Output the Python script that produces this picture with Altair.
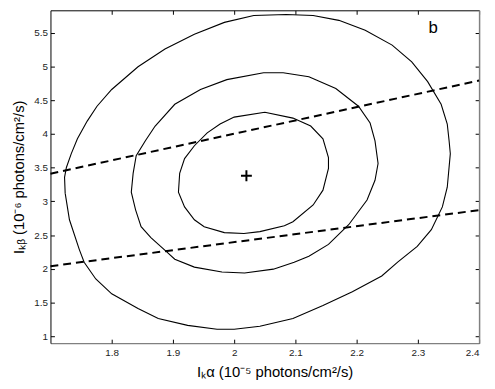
import altair as alt
import pandas as pd

# ---- data ----
inner_x = [2.050, 2.096, 2.125, 2.145, 2.154, 2.154, 2.145, 2.129, 2.096, 2.082, 2.042, 2.016,
           1.984, 1.951, 1.935, 1.919, 1.909, 1.911, 1.919, 1.935, 1.956, 1.977, 2.000]
inner_y = [4.321, 4.233, 4.116, 3.926, 3.649, 3.488, 3.166, 2.947, 2.698, 2.640, 2.552, 2.523,
           2.537, 2.625, 2.727, 2.918, 3.137, 3.415, 3.634, 3.824, 4.014, 4.146, 4.248]

middle_x = [1.871, 1.903, 1.945, 1.988, 2.048, 2.080, 2.122, 2.166, 2.203, 2.222, 2.230, 2.235,
            2.230, 2.217, 2.187, 2.154, 2.122, 2.098, 2.064, 2.017, 1.980, 1.935, 1.903, 1.889,
            1.864, 1.848, 1.839, 1.832, 1.835, 1.840, 1.855]
middle_y = [4.116, 4.438, 4.657, 4.803, 4.906, 4.906, 4.847, 4.672, 4.409, 4.160, 3.897, 3.561,
            3.312, 3.020, 2.654, 2.362, 2.187, 2.099, 1.996, 1.938, 1.953, 2.026, 2.143, 2.260,
            2.464, 2.625, 2.874, 3.137, 3.415, 3.678, 3.897]

outer_x = [1.724, 1.723, 1.726, 1.734, 1.744, 1.760, 1.776, 1.800, 1.843, 1.887, 1.935, 1.984,
           2.032, 2.085, 2.129, 2.171, 2.214, 2.258, 2.290, 2.316, 2.338, 2.348, 2.351, 2.353,
           2.348, 2.340, 2.322, 2.299, 2.267, 2.241, 2.193, 2.145, 2.096, 2.042, 2.000, 1.972,
           1.924, 1.876, 1.843, 1.800, 1.774, 1.755, 1.747, 1.731]
outer_y = [3.122, 3.356, 3.502, 3.707, 3.926, 4.189, 4.409, 4.657, 4.994, 5.257, 5.476, 5.651,
           5.754, 5.768, 5.754, 5.681, 5.535, 5.315, 5.067, 4.774, 4.438, 4.146, 3.897, 3.707,
           3.210, 2.918, 2.581, 2.333, 2.099, 1.894, 1.660, 1.456, 1.265, 1.149, 1.105, 1.105,
           1.163, 1.265, 1.412, 1.631, 1.850, 2.099, 2.289, 2.727]

line_x = [1.7, 2.4]
upper_y = [3.41, 4.79]
lower_y = [2.04, 2.87]

best_x = [2.02]
best_y = [3.38]

label_text = ["b"]
label_x = [2.325]
label_y = [5.57]

x_ticks = [1.8, 1.9, 2.0, 2.1, 2.2, 2.3, 2.4]
y_ticks = [1, 1.5, 2, 2.5, 3, 3.5, 4, 4.5, 5, 5.5]

x_title = "Iₖα (10⁻⁵ photons/cm²/s)"
y_title = "Iₖᵦ (10⁻⁶ photons/cm²/s)"

# ---- tables ----
rows = []
for name, xs, ys in [("inner", inner_x, inner_y), ("middle", middle_x, middle_y),
                     ("outer", outer_x, outer_y)]:
    xs2 = xs + [xs[0]]
    ys2 = ys + [ys[0]]
    for i, (a, b) in enumerate(zip(xs2, ys2)):
        rows.append({"c": name, "i": i, "x": a, "y": b})
df_c = pd.DataFrame(rows)

lrows = []
for name, ys in [("upper", upper_y), ("lower", lower_y)]:
    for a, b in zip(line_x, ys):
        lrows.append({"l": name, "x": a, "y": b})
df_l = pd.DataFrame(lrows)

df_b = pd.DataFrame({"x": best_x, "y": best_y})
df_t = pd.DataFrame({"x": label_x, "y": label_y, "t": label_text})

W, H = 434, 337
FONT = "Liberation Sans"

xs = alt.Scale(domain=[1.7, 2.4], nice=False, zero=False)
ys = alt.Scale(domain=[0.9, 5.83], nice=False, zero=False)

ax_bottom = alt.Axis(orient="bottom", values=x_ticks, format="~g", ticks=False, tickSize=0,
                     labelPadding=5, domainColor="#808080", domainWidth=1.5, grid=False,
                     labelFontSize=10, labelColor="#222222", labelFont=FONT,
                     titleFont=FONT, titleFontSize=15, titleFontWeight="normal",
                     titleColor="black", titlePadding=7, titleX=227)
ax_left = alt.Axis(orient="left", values=y_ticks, format="~g", ticks=False, tickSize=0,
                   labelPadding=3, domainColor="black", domainWidth=1, grid=False,
                   labelFontSize=10, labelColor="#222222", labelFont=FONT,
                   titleFont=FONT, titleFontSize=15, titleFontWeight="normal",
                   titleColor="black", titlePadding=7)
ax_x_bottom_ticks = alt.Axis(orient="top", offset=-H, values=x_ticks, labels=False,
                             domain=False, tickSize=4, tickColor="black", grid=False)
ax_y_left_ticks = alt.Axis(orient="right", offset=-W, values=y_ticks, labels=False,
                           domain=False, tickSize=4, tickColor="black", grid=False)
ax_x_top = alt.Axis(orient="bottom", offset=-H, values=x_ticks, labels=False,
                    domain=True, domainColor="black", domainWidth=1,
                    tickSize=4, tickColor="black", grid=False)
ax_y_right = alt.Axis(orient="left", offset=-W, values=y_ticks, labels=False,
                      domain=True, domainColor="#808080", domainWidth=1.5,
                      tickSize=4, tickColor="black", grid=False)

contours = alt.Chart(df_c).mark_line(color="black", strokeWidth=1.1).encode(
    x=alt.X("x:Q", scale=xs, axis=ax_bottom, title=x_title),
    y=alt.Y("y:Q", scale=ys, axis=ax_left, title=y_title),
    detail="c:N",
    order="i:Q",
)

dashed = alt.Chart(df_l).mark_line(color="black", strokeWidth=2, strokeDash=[8, 5]).encode(
    x=alt.X("x:Q", scale=xs, axis=ax_x_bottom_ticks, title=""),
    y=alt.Y("y:Q", scale=ys, axis=ax_y_left_ticks, title=""),
    detail="l:N",
)

plus = alt.Chart(df_b).mark_point(shape="M-1,0L1,0M0,-1L0,1", size=121, strokeWidth=2,
                                  color="black", filled=False, opacity=1).encode(
    x=alt.X("x:Q", scale=xs, axis=ax_x_top, title=""),
    y=alt.Y("y:Q", scale=ys, axis=ax_y_right, title=""),
)

label = alt.Chart(df_t).mark_text(font=FONT, fontSize=17, color="black",
                                  align="center", baseline="middle").encode(
    x=alt.X("x:Q", scale=xs, axis=None),
    y=alt.Y("y:Q", scale=ys, axis=None),
    text="t:N",
)

chart = alt.layer(contours, dashed, plus, label).resolve_axis(
    x="independent", y="independent"
).properties(
    width=W, height=H, autosize="none",
    padding={"left": 43, "top": 0, "right": 8, "bottom": 36},
    background="white",
).configure_view(stroke=None)

chart.save("out.html", embed_options={"renderer": "svg", "actions": False})
